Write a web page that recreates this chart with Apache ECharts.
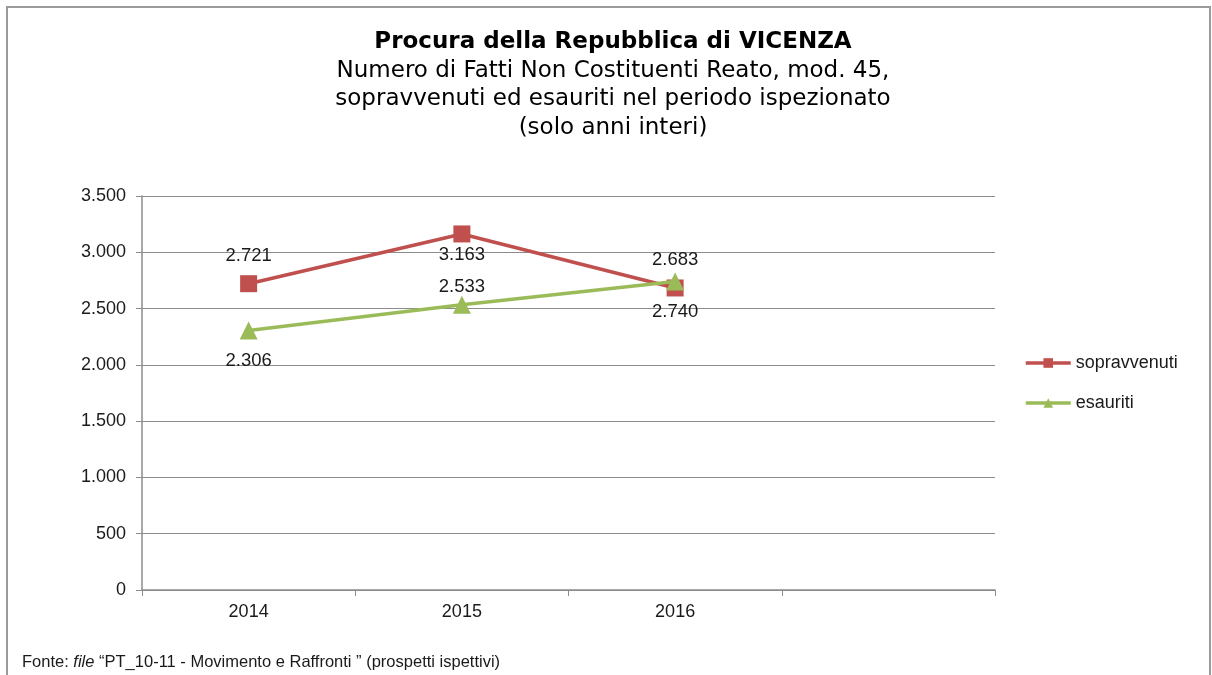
<!DOCTYPE html>
<html>
<head>
<meta charset="utf-8">
<script src="https://cdn.jsdelivr.net/npm/echarts@6/dist/echarts.min.js"></script>
<style>
html,body{margin:0;padding:0;background:#fff;}
#chart{width:1212px;height:675px;}
</style>
</head>
<body>
<div id="chart"></div>
<script>
const categories = ['2014', '2015', '2016', ''];
const sopravvenuti = [2721, 3163, 2683, null];
const esauriti = [2306, 2533, 2740, null];
const sopravvenutiLabelPos = ['top', 'bottom', 'top'];
const esauritiLabelPos = ['bottom', 'top', 'bottom'];
const sopravvenutiLabelDist = [10, 3, 10];
const esauritiLabelDist = [12, -1, 12];
const yTicks = { min: 0, max: 3500, interval: 500 };

function fmt(v) {
  return String(v).replace(/\B(?=(\d{3})+(?!\d))/g, '.');
}
function buildData(vals, pos, dist) {
  return vals.map((v, i) => v == null ? null : ({ value: v, label: { position: pos[i], distance: dist[i] } }));
}

const chart = echarts.init(document.getElementById('chart'), null, { renderer: 'canvas' });
const labelFont = { fontFamily: 'Liberation Sans, Arial, sans-serif', fontSize: 18, color: '#1a1a1a' };

chart.setOption({
  backgroundColor: '#fff',
  animation: false,
  title: {
    text: 'Procura della Repubblica di VICENZA',
    subtext: 'Numero di Fatti Non Costituenti Reato, mod. 45,\nsopravvenuti ed esauriti nel periodo ispezionato\n(solo anni interi)',
    left: 613,
    textAlign: 'center',
    top: 28,
    itemGap: 0,
    padding: 0,
    textStyle: { fontFamily: 'DejaVu Sans, Verdana, sans-serif', fontWeight: 'bold', fontSize: 23, lineHeight: 28.5, color: '#000' },
    subtextStyle: { fontFamily: 'DejaVu Sans, Verdana, sans-serif', fontSize: 23, lineHeight: 28.5, color: '#000' }
  },
  grid: { left: 142, right: 217, top: 196, bottom: 85, containLabel: false },
  legend: {
    orient: 'vertical',
    left: 1019,
    top: 347,
    itemWidth: 45,
    itemHeight: 12,
    itemGap: 18,
    lineStyle: { width: 3.5 },
    textStyle: Object.assign({}, labelFont, { lineHeight: 22 }),
    data: ['sopravvenuti', 'esauriti']
  },
  xAxis: {
    type: 'category',
    data: categories,
    boundaryGap: true,
    axisLine: { lineStyle: { color: '#8c8c8c', width: 1.5 } },
    axisTick: { show: true, interval: 0, length: 6, lineStyle: { color: '#8c8c8c' } },
    axisLabel: Object.assign({}, labelFont, { margin: 13, interval: 0 }),
    splitLine: { show: false }
  },
  yAxis: {
    type: 'value',
    min: yTicks.min,
    max: yTicks.max,
    interval: yTicks.interval,
    axisLine: { show: true, lineStyle: { color: '#8c8c8c', width: 1.5 } },
    axisTick: { show: true, length: 6, lineStyle: { color: '#8c8c8c' } },
    axisLabel: Object.assign({}, labelFont, { margin: 16, formatter: fmt }),
    splitLine: { show: true, lineStyle: { color: '#8c8c8c', width: 1.2 } }
  },
  series: [
    {
      name: 'sopravvenuti',
      type: 'line',
      data: buildData(sopravvenuti, sopravvenutiLabelPos, sopravvenutiLabelDist),
      symbol: 'rect',
      symbolSize: 17,
      itemStyle: { color: '#C0504D' },
      lineStyle: { color: '#C0504D', width: 3.5 },
      label: Object.assign({ show: true, formatter: p => fmt(p.value) }, labelFont, { fontSize: 18.5 }),
      z: 2
    },
    {
      name: 'esauriti',
      type: 'line',
      data: buildData(esauriti, esauritiLabelPos, esauritiLabelDist),
      symbol: 'triangle',
      symbolSize: 18,
      itemStyle: { color: '#9BBB59' },
      lineStyle: { color: '#9BBB59', width: 3.5 },
      label: Object.assign({ show: true, formatter: p => fmt(p.value) }, labelFont, { fontSize: 18.5 }),
      z: 3
    }
  ],
  graphic: [
    {
      type: 'rect',
      shape: { x: 7, y: 7, width: 1203, height: 700 },
      style: { fill: null, stroke: '#9a9a9a', lineWidth: 2 },
      silent: true
    },
    {
      type: 'text',
      left: 22,
      top: 654,
      style: {
        text: 'Fonte: {i|file} “PT_10-11 - Movimento e Raffronti ” (prospetti ispettivi)',
        fontFamily: 'Liberation Sans, Arial, sans-serif',
        fontSize: 16.5,
        fill: '#1a1a1a',
        rich: { i: { fontStyle: 'italic', fontFamily: 'Liberation Sans, Arial, sans-serif', fontSize: 16.5, fill: '#1a1a1a' } }
      }
    }
  ]
});
</script>
</body>
</html>
